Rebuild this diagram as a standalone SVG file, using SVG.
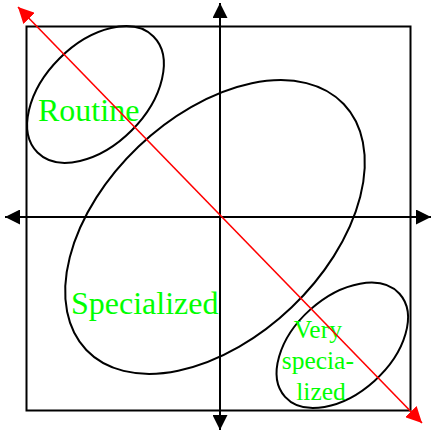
<svg xmlns="http://www.w3.org/2000/svg" width="435" height="432" viewBox="0 0 435 432">
  <style>
    .frame { fill: none; stroke: #000; stroke-width: 2; }
    .axis { stroke: #000; stroke-width: 2; fill: none; }
    .diag { stroke: #ff0000; stroke-width: 1.6; fill: none; }
    .blob { fill: none; stroke: #000; stroke-width: 2; }
    .lbl { font-family: "Liberation Serif", "Times New Roman", serif; fill: #00ff00; }
  </style>
  <defs>
    <marker id="ah" viewBox="0 0 15 15" refX="15" refY="7.5" markerWidth="15" markerHeight="15" markerUnits="userSpaceOnUse" orient="auto-start-reverse">
      <path d="M0,0 L15,7.5 L0,15 z" fill="#000"/>
    </marker>
    <marker id="rh" viewBox="0 0 16 16" refX="16" refY="8" markerWidth="16" markerHeight="16" markerUnits="userSpaceOnUse" orient="auto-start-reverse">
      <path d="M0,0 L16,8 L0,16 z" fill="#ff0000"/>
    </marker>
  </defs>
  <rect class="frame" x="26.5" y="26.5" width="384" height="384"/>
  <g id="connectors">
    <line class="axis" x1="5" y1="217" x2="431" y2="217" marker-start="url(#ah)" marker-end="url(#ah)"/>
    <line class="axis" x1="220" y1="3" x2="220" y2="430" marker-start="url(#ah)" marker-end="url(#ah)"/>
  </g>
  <g id="routine">
    <ellipse class="blob" cx="95.5" cy="94.5" rx="82" ry="51" transform="rotate(-45 95.5 94.5)"/>
    <text class="lbl" x="38" y="120.5" font-size="32">Routine</text>
  </g>
  <g id="specialized">
    <ellipse class="blob" cx="215" cy="227" rx="178" ry="111" transform="rotate(-43.7 215 227)"/>
    <text class="lbl" x="71" y="314" font-size="32">Specialized</text>
  </g>
  <g id="very-specialized">
    <ellipse class="blob" cx="342.3" cy="345.3" rx="77" ry="48" transform="rotate(-42 342.3 345.3)"/>
    <text class="lbl" font-size="25.5" text-anchor="middle">
      <tspan x="321" y="338">Very</tspan>
      <tspan x="321" y="369">specia-</tspan>
      <tspan x="321" y="400">lized</tspan>
    </text>
  </g>
  <g id="diagonal">
    <line class="diag" x1="18" y1="7" x2="422" y2="423" marker-start="url(#rh)" marker-end="url(#rh)"/>
  </g>
</svg>
